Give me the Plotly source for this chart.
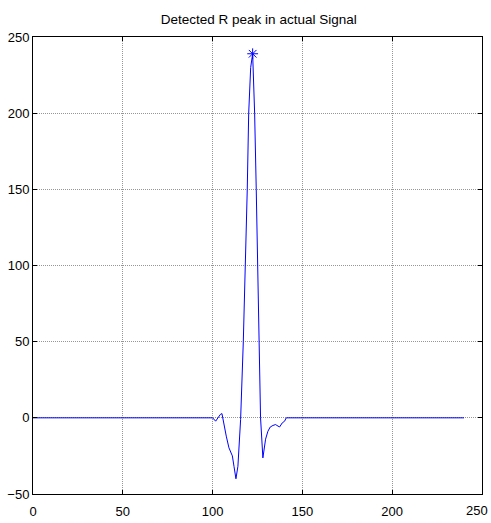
import plotly.graph_objects as go

# ECG beat segment (sample index, amplitude)
sample_idx = [0, 100, 101.7, 103, 104.3, 105.2, 105.8, 107.6, 109.1, 111, 111.9, 113,
              114.1, 115.6, 117.1, 118.4, 119.3, 120.1, 121.2, 122.3, 123.4, 124.3,
              125.1, 125.6, 126.7, 128, 129.5, 130.8, 132.1, 133.6, 135.1, 135.8,
              137.3, 138.8, 140.1, 141, 240]
amplitude = [0, 0, -2.2, 0, 2.2, 2.8, -1.1, -12, -19.7, -25, -31.8, -40,
             -31.8, -1, 50, 100, 150, 200, 230, 239, 200, 150,
             100, 50, 0, -26.3, -14, -8.8, -6, -5, -4.4, -5,
             -6, -3.3, -2.2, 0, 0]

# detected R peak
peak_x = [122.3]
peak_y = [239]

x_ticks = [0, 50, 100, 150, 200, 250]
y_ticks = [-50, 0, 50, 100, 150, 200, 250]

BLUE = "rgb(0,0,255)"
FONT = dict(family="Liberation Sans, Arial", size=13, color="black")

fig = go.Figure()
fig.add_trace(go.Scatter(x=sample_idx, y=amplitude, mode="lines",
                         line=dict(color=BLUE, width=1), showlegend=False))
fig.add_trace(go.Scatter(x=peak_x, y=peak_y, mode="markers",
                         marker=dict(symbol="asterisk-open", size=9, color=BLUE,
                                     line=dict(color=BLUE, width=1)),
                         showlegend=False))

axis_common = dict(showline=True, linecolor="black", linewidth=1, mirror="ticks",
                   ticks="inside", ticklen=4, tickcolor="black",
                   showgrid=True, gridcolor="rgb(150,150,150)", griddash="1px,1px", gridwidth=1,
                   zeroline=False, tickfont=FONT, automargin=False)

fig.update_layout(
    width=491, height=523,
    margin=dict(l=33, r=9, t=37, b=29),
    paper_bgcolor="white", plot_bgcolor="white",
    title=dict(text="Detected R peak in actual Signal", x=0.527, xanchor="center",
               y=1 - 19 / 523, yanchor="middle",
               font=dict(family="Liberation Sans, Arial", size=13.5, color="black")),
    xaxis=dict(range=[0, 250], tickvals=x_ticks,
               ticktext=[str(v) for v in x_ticks[:-1]] + [""],
               ticklabelstandoff=5, **axis_common),
    yaxis=dict(range=[-50, 250], tickvals=y_ticks, **axis_common),
)

# last x tick label, pulled in so it stays inside the figure edge
fig.add_annotation(x=x_ticks[-1], y=0, xref="x", yref="paper", yshift=-16,
                   text=str(x_ticks[-1]), showarrow=False, font=FONT,
                   xanchor="right", xshift=8, yanchor="middle")

fig.write_html("out.html")
